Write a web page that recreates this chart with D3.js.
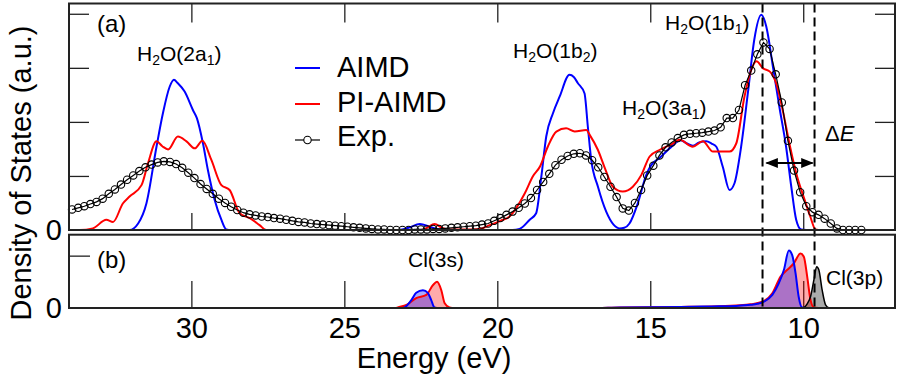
<!DOCTYPE html>
<html>
<head>
<meta charset="utf-8">
<script src="https://cdn.jsdelivr.net/npm/d3@7"></script>
<style>
  body { margin: 0; background: #fff; }
  svg { font-family: "Liberation Sans", Arial, sans-serif; }
</style>
</head>
<body>
<script>
// energies in eV, densities in arbitrary units (panel (a) tick spacing = 1)
var aimdA = [
  [32.3, 0], [32.02, 0], [31.74, 0.12], [31.47, 0.49], [31.14, 1.54], [30.93, 2.16],
  [30.71, 2.65], [30.57, 2.78], [30.45, 2.72], [30.22, 2.56], [29.95, 2.22], [29.82, 2.07],
  [29.62, 1.6], [29.46, 1.11], [29.24, 0.56], [29.02, 0.19], [28.86, 0.01], [28.7, 0],
  [23.2, 0], [22.9, 0.04], [22.53, 0.11], [22.2, 0.06], [21.9, 0.01], [21.6, 0],
  [19.5, 0], [19.27, 0.02], [18.94, 0.19], [18.73, 0.31], [18.56, 0.99], [18.4, 1.73],
  [18.18, 2.16], [17.96, 2.47], [17.64, 2.87], [17.5, 2.83], [17.37, 2.72], [17.15, 2.53],
  [17.04, 1.91], [16.93, 1.3], [16.71, 0.8], [16.44, 0.34], [16.2, 0.1], [16.0, 0.03],
  [15.85, 0.04], [15.68, 0.12], [15.41, 0.49], [15.13, 1.02], [14.97, 1.2], [14.7, 1.33],
  [14.37, 1.51], [14.0, 1.66], [13.8, 1.6], [13.61, 1.56], [13.4, 1.62], [13.17, 1.64],
  [13.0, 1.6], [12.84, 1.54], [12.63, 1.17], [12.41, 0.74], [12.25, 0.86], [12.03, 1.54],
  [11.81, 2.53], [11.6, 3.52], [11.37, 3.98], [11.21, 3.77], [10.99, 3.02], [10.78, 2.28],
  [10.56, 1.54], [10.39, 0.8], [10.23, 0.19], [10.07, 0.01], [9.9, 0]
];

var piAimdA = [
  [33.8, 0], [33.65, 0], [33.22, 0.03], [32.78, 0.19], [32.56, 0.15], [32.24, 0.49],
  [32.02, 0.62], [31.63, 0.83], [31.42, 1.23], [31.14, 1.64], [30.95, 1.55], [30.76, 1.49],
  [30.44, 1.73], [30.16, 1.64], [29.89, 1.51], [29.64, 1.65], [29.35, 1.3], [29.02, 0.83],
  [28.75, 0.74], [28.42, 0.31], [28.09, 0.22], [27.77, 0.09], [27.55, 0], [27.3, 0],
  [22.5, 0], [22.3, 0.04], [22.05, 0.11], [21.8, 0.04], [21.6, 0.01], [21.0, 0.01],
  [20.58, 0.02], [20.25, 0.09], [19.9, 0.17], [19.6, 0.25], [19.1, 0.68], [18.84, 0.99],
  [18.6, 1.18], [18.35, 1.54], [18.07, 1.82], [17.75, 1.88], [17.47, 1.82], [17.09, 1.85],
  [16.98, 1.76], [16.71, 1.48], [16.5, 1.17], [16.22, 0.8], [15.9, 0.71], [15.57, 0.8],
  [15.29, 1.02], [15.02, 1.36], [14.7, 1.48], [14.26, 1.6], [14.04, 1.67], [13.61, 1.54],
  [13.28, 1.64], [12.95, 1.45], [12.41, 1.45], [12.19, 1.6], [11.92, 2.47], [11.7, 2.96],
  [11.53, 3.12], [11.31, 2.99], [11.09, 2.93], [10.87, 2.69], [10.65, 2.16], [10.43, 1.54],
  [10.2, 0.99], [9.99, 0.62], [9.77, 0.25], [9.6, 0.01], [9.5, 0]
];

// experimental spectrum, one value every 0.2 eV from 33.9 eV down to 8.1 eV
var expStart = 33.9, expStep = 0.2;
var expValues = [
  0.38, 0.41, 0.44, 0.48, 0.52, 0.58, 0.67, 0.75, 0.84, 0.93,
  1.01, 1.09, 1.16, 1.21, 1.25, 1.27, 1.26, 1.22, 1.15, 1.06,
  0.96, 0.85, 0.76, 0.67, 0.58, 0.50, 0.43, 0.37, 0.32, 0.29,
  0.27, 0.25, 0.24, 0.22, 0.21, 0.19, 0.17, 0.15, 0.14, 0.12,
  0.11, 0.10, 0.09, 0.08, 0.07, 0.06, 0.05, 0.04, 0.03, 0.02,
  0.01, 0.01, 0, 0, 0, 0, 0.01, 0.01, 0.01, 0.02,
  0.02, 0.03, 0.04, 0.05, 0.06, 0.07, 0.08, 0.10, 0.12, 0.17,
  0.22, 0.28, 0.34, 0.41, 0.49, 0.59, 0.74, 0.89, 1.04, 1.20,
  1.30, 1.37, 1.41, 1.42, 1.38, 1.29, 1.16, 0.98, 0.80, 0.61,
  0.40, 0.36, 0.50, 0.74, 1.01, 1.19, 1.38, 1.53, 1.62, 1.70,
  1.76, 1.78, 1.79, 1.80, 1.82, 1.84, 1.90, 2.07, 2.07, 2.22,
  2.68, 2.95, 3.25, 3.47, 3.35, 2.88, 2.36, 1.65, 1.10, 0.70,
  0.44, 0.33, 0.28, 0.21, 0.12, 0.03, 0, 0, 0, 0
];

// panel (b): Cl projected DOS (tick at 1)
var aimdB = [
  [23.1, 0], [23.03, 0.01], [22.81, 0.15], [22.65, 0.29], [22.43, 0.34], [22.27, 0.29],
  [22.16, 0.15], [22.05, 0.01], [21.9, 0], [17.0, 0], [16.0, 0.01], [14.0, 0.02],
  [13.0, 0.03], [12.2, 0.04], [11.72, 0.06], [11.5, 0.08], [11.29, 0.12], [11.01, 0.25],
  [10.8, 0.47], [10.63, 0.73], [10.47, 1.1], [10.36, 1.01], [10.25, 0.66], [10.15, 0.22],
  [10.04, 0.01], [9.9, 0]
];

var piAimdB = [
  [23.3, 0], [23.25, 0.01], [22.97, 0.06], [22.65, 0.19], [22.32, 0.25], [22.1, 0.44],
  [21.97, 0.5], [21.83, 0.34], [21.72, 0.09], [21.56, 0.01], [21.4, 0], [17.0, 0],
  [16.0, 0.01], [14.0, 0.02], [13.0, 0.03], [12.2, 0.05], [11.72, 0.07], [11.29, 0.13],
  [11.01, 0.28], [10.74, 0.6], [10.52, 0.73], [10.31, 0.85], [10.09, 1.04], [9.98, 0.98],
  [9.87, 0.6], [9.76, 0.15], [9.65, 0.01], [9.5, 0]
];

var expB = [
  [10.1, 0], [9.98, 0.01], [9.87, 0.08], [9.76, 0.22], [9.65, 0.54], [9.56, 0.79],
  [9.49, 0.73], [9.38, 0.34], [9.27, 0.06], [9.16, 0]
];

var energyTicks = [30, 25, 20, 15, 10];
var dosTicksA = [1, 2, 3, 4];
var deltaE = [11.33, 9.63];
var legendNames = ['AIMD', 'PI-AIMD', 'Exp.'];

(function () {
  var svg, x, ya, yb, lineA, lineB, areaB, expData, pa, pb, legend, defs,
    width = 899, height = 381,
    left = 69, right = 895,
    aTop = 3.5, aBottom = 230,
    bTop = 234.7, bBottom = 308,
    blue = '#0000ff', red = '#ff0000';

  x = d3.scaleLinear().domain([34, 7]).range([left, right]);
  ya = d3.scaleLinear().domain([0, 4.19]).range([aBottom, aTop]);
  yb = d3.scaleLinear().domain([0, 1.4]).range([bBottom, bTop]);

  expData = expValues.map(function (v, i) {
    return [+(expStart - i * expStep).toFixed(2), v];
  });

  svg = d3.select('body')
    .append('svg')
    .attr('width', width)
    .attr('height', height);

  defs = svg.append('defs');
  defs.append('marker')
    .attr('id', 'head')
    .attr('viewBox', '0 0 10 10')
    .attr('refX', 9).attr('refY', 5)
    .attr('markerWidth', 7).attr('markerHeight', 7)
    .attr('orient', 'auto-start-reverse')
    .append('path')
    .attr('d', 'M0,1L10,5L0,9Z')
    .attr('fill', '#000');

  lineA = d3.line()
    .x(function (d) { return x(d[0]); })
    .y(function (d) { return ya(d[1]); })
    .curve(d3.curveMonotoneX);

  lineB = d3.line()
    .x(function (d) { return x(d[0]); })
    .y(function (d) { return yb(d[1]); })
    .curve(d3.curveMonotoneX);

  areaB = d3.area()
    .x(function (d) { return x(d[0]); })
    .y0(yb(0))
    .y1(function (d) { return yb(d[1]); })
    .curve(d3.curveMonotoneX);

  // ---- panel (a)
  pa = svg.append('g');

  pa.append('g')
    .attr('transform', 'translate(0,' + aBottom + ')')
    .call(d3.axisBottom(x).tickValues(energyTicks).tickSize(-17).tickFormat(''));
  pa.append('g')
    .attr('transform', 'translate(0,' + aTop + ')')
    .call(d3.axisTop(x).tickValues(energyTicks).tickSize(-19).tickFormat(''));
  pa.append('g')
    .attr('transform', 'translate(' + left + ',0)')
    .call(d3.axisLeft(ya).tickValues(dosTicksA).tickSize(-20).tickFormat(''));
  pa.append('g')
    .attr('transform', 'translate(' + right + ',0)')
    .call(d3.axisRight(ya).tickValues(dosTicksA).tickSize(-20).tickFormat(''));

  pa.append('path')
    .attr('d', lineA(aimdA))
    .attr('fill', 'none').attr('stroke', blue).attr('stroke-width', 2);
  pa.append('path')
    .attr('d', lineA(piAimdA))
    .attr('fill', 'none').attr('stroke', red).attr('stroke-width', 2);
  pa.append('path')
    .attr('d', d3.line()
      .x(function (d) { return x(d[0]); })
      .y(function (d) { return ya(d[1]); })(expData))
    .attr('fill', 'none').attr('stroke', '#000').attr('stroke-width', 1.2);
  pa.selectAll('circle.exp')
    .data(expData)
    .enter()
    .append('circle')
    .attr('class', 'exp')
    .attr('cx', function (d) { return x(d[0]); })
    .attr('cy', function (d) { return ya(d[1]); })
    .attr('r', 3.7)
    .attr('fill', 'none')
    .attr('stroke', '#000')
    .attr('stroke-width', 1.1);

  // ---- panel (b)
  pb = svg.append('g');

  pb.append('g')
    .attr('class', 'xb')
    .attr('transform', 'translate(0,' + bBottom + ')')
    .call(d3.axisBottom(x).tickValues(energyTicks).tickSize(-27).tickPadding(9));
  pb.append('g')
    .attr('transform', 'translate(' + left + ',0)')
    .call(d3.axisLeft(yb).tickValues([1]).tickSize(-21).tickFormat(''));

  pb.append('path').attr('d', areaB(piAimdB)).attr('fill', red).attr('fill-opacity', 0.33);
  pb.append('path').attr('d', areaB(aimdB)).attr('fill', blue).attr('fill-opacity', 0.33);
  pb.append('path').attr('d', areaB(expB)).attr('fill', '#000').attr('fill-opacity', 0.33);
  pb.append('path').attr('d', lineB(piAimdB))
    .attr('fill', 'none').attr('stroke', red).attr('stroke-width', 2);
  pb.append('path').attr('d', lineB(aimdB))
    .attr('fill', 'none').attr('stroke', blue).attr('stroke-width', 2);
  pb.append('path').attr('d', lineB(expB))
    .attr('fill', 'none').attr('stroke', '#000').attr('stroke-width', 1.5);

  // dashed marks of the band edges
  svg.selectAll('line.edge')
    .data(deltaE)
    .enter()
    .append('line')
    .attr('class', 'edge')
    .attr('x1', function (d) { return x(d); })
    .attr('x2', function (d) { return x(d); })
    .attr('y1', aTop)
    .attr('y2', bBottom)
    .attr('stroke', '#000')
    .attr('stroke-width', 2)
    .attr('stroke-dasharray', '9,5');

  svg.append('line')
    .attr('x1', x(deltaE[0]) + 4)
    .attr('x2', x(deltaE[1]) - 2)
    .attr('y1', 163).attr('y2', 163)
    .attr('stroke', '#000')
    .attr('stroke-width', 1.8)
    .attr('marker-start', 'url(#head)')
    .attr('marker-end', 'url(#head)');

  // frames
  svg.append('rect')
    .attr('x', left).attr('y', aTop)
    .attr('width', right - left).attr('height', aBottom - aTop)
    .attr('fill', 'none').attr('stroke', '#222').attr('stroke-width', 2);
  svg.append('rect')
    .attr('x', left).attr('y', bTop)
    .attr('width', right - left).attr('height', bBottom - bTop)
    .attr('fill', 'none').attr('stroke', '#222').attr('stroke-width', 2);

  svg.selectAll('.tick line').attr('stroke', '#222').attr('stroke-width', 1.3);
  svg.selectAll('.domain').remove();
  svg.selectAll('.xb .tick text')
    .attr('font-size', 29)
    .attr('font-family', '"Liberation Sans", Arial, sans-serif')
    .attr('fill', '#000');

  // zero labels
  svg.selectAll('text.zero')
    .data([ya(0), yb(0)])
    .enter()
    .append('text')
    .attr('class', 'zero')
    .attr('x', 62)
    .attr('y', function (d) { return d; })
    .attr('dy', '0.35em')
    .attr('text-anchor', 'end')
    .attr('font-size', 29)
    .text('0');

  // axis titles
  svg.append('text')
    .attr('x', 434).attr('y', 368)
    .attr('text-anchor', 'middle')
    .attr('font-size', 29)
    .text('Energy (eV)');
  svg.append('text')
    .attr('transform', 'translate(31,173) rotate(-90)')
    .attr('text-anchor', 'middle')
    .attr('font-size', 29)
    .text('Density of States (a.u.)');

  // panel letters
  svg.append('text').attr('x', 97).attr('y', 32).attr('font-size', 24).text('(a)');
  svg.append('text').attr('x', 97).attr('y', 268).attr('font-size', 24).text('(b)');

  function orbital(px, py, main, sub) {
    var t = svg.append('text')
      .attr('x', px).attr('y', py)
      .attr('font-size', 21);
    t.append('tspan').text('H');
    t.append('tspan').attr('font-size', 14).attr('dy', 4).text('2');
    t.append('tspan').attr('dy', -4).text('O(' + main);
    t.append('tspan').attr('font-size', 14).attr('dy', 4).text(sub);
    t.append('tspan').attr('dy', -4).text(')');
  }
  orbital(137, 61, '2a', '1');
  orbital(513, 58, '1b', '2');
  orbital(622, 115, '3a', '1');
  orbital(665, 30, '1b', '1');

  svg.append('text').attr('x', 408).attr('y', 267).attr('font-size', 21).text('Cl(3s)');
  svg.append('text').attr('x', 826).attr('y', 285).attr('font-size', 21).text('Cl(3p)');

  var de = svg.append('text').attr('x', 825).attr('y', 141).attr('font-size', 22);
  de.append('tspan').text('\u0394');
  de.append('tspan').attr('font-style', 'italic').text('E');

  // legend
  legend = svg.append('g');
  legend.selectAll('line')
    .data(legendNames)
    .enter()
    .append('line')
    .attr('x1', 295).attr('x2', 320)
    .attr('y1', function (d, i) { return 68 + i * 36; })
    .attr('y2', function (d, i) { return 68 + i * 36; })
    .attr('stroke', function (d, i) { return [blue, red, '#000'][i]; })
    .attr('stroke-width', function (d, i) { return i < 2 ? 2 : 1.2; });
  legend.append('circle')
    .attr('cx', 307.5).attr('cy', 68 + 2 * 36).attr('r', 3.7)
    .attr('fill', '#fff').attr('stroke', '#000').attr('stroke-width', 1.1);
  legend.selectAll('text')
    .data(legendNames)
    .enter()
    .append('text')
    .attr('x', 337)
    .attr('y', function (d, i) { return 77 + i * 34.5; })
    .attr('font-size', 29)
    .text(function (d) { return d; });
}());
</script>
</body>
</html>
